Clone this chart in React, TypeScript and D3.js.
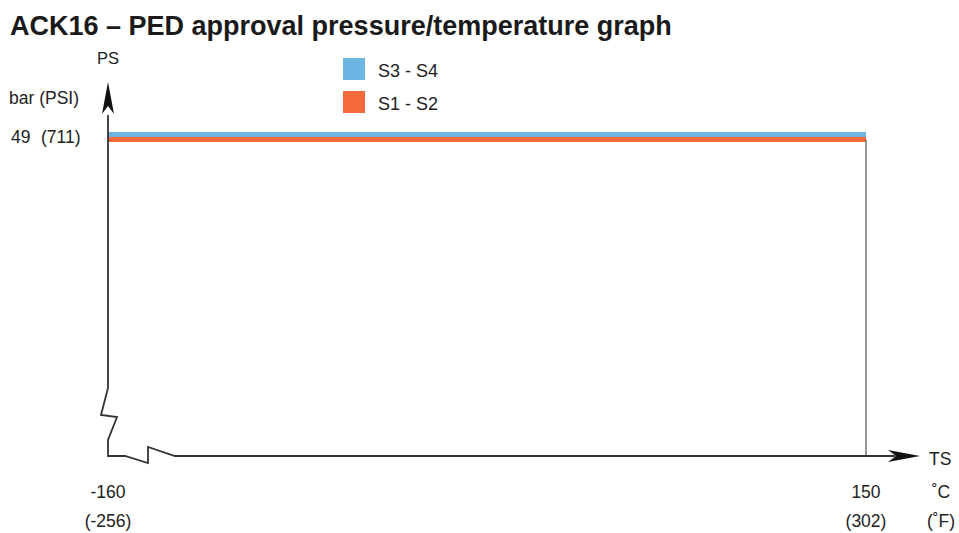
import { useEffect, useRef } from "react";
import * as d3 from "d3";

const width = 959;
const height = 533;

// temperature range (°C / °F) and max pressure (bar / psi)
const tempC = [-160, 150];
const tempF = [-256, 302];
const pressureBar = [49];
const pressurePsi = [711];

const series = [
  { name: "S3 - S4", color: "#6db5e3", temps: [-160, 150], ps: [49, 49] },
  { name: "S1 - S2", color: "#f4693a", temps: [-160, 150], ps: [49, 49] },
];

const App = () => {
  const svgRef = useRef<SVGSVGElement>(null);

  useEffect(() => {
    const svg = d3.select(svgRef.current);
    svg.selectAll("*").remove();

    const x = d3.scaleLinear().domain([tempC[0], tempC[1]]).range([108, 866]);
    const y = d3.scaleLinear().domain([0, pressureBar[0]]).range([456, 137]);

    const font = "'Liberation Sans', Arial, sans-serif";
    const x0 = x.range()[0];
    const y0 = y.range()[0];

    svg
      .append("text")
      .attr("x", 10)
      .attr("y", 35)
      .attr("font-family", font)
      .attr("font-size", 27)
      .attr("font-weight", "bold")
      .attr("fill", "#1a1a1a")
      .text("ACK16 – PED approval pressure/temperature graph");

    // series lines (stacked side by side at the same pressure)
    const line = d3
      .line<[number, number]>()
      .x((d) => x(d[0]))
      .y((d) => y(d[1]));

    series.forEach((s, i) => {
      const offset = (i - 0.5) * 5;
      svg
        .append("path")
        .attr("d", line(s.temps.map((t, j) => [t, s.ps[j]] as [number, number])))
        .attr("transform", `translate(0,${offset})`)
        .attr("fill", "none")
        .attr("stroke", s.color)
        .attr("stroke-width", 5);
    });

    // right boundary
    svg
      .append("line")
      .attr("x1", x(tempC[1]))
      .attr("x2", x(tempC[1]))
      .attr("y1", y(pressureBar[0]) + 3)
      .attr("y2", y0)
      .attr("stroke", "#777")
      .attr("stroke-width", 1.5);

    // axes with breaks
    const axisPath = [
      [x0, 115],
      [x0, 388],
      [x0 - 7, 415],
      [x0 + 9, 417],
      [x0, 440],
      [x0, y0],
      [x0 + 17, y0],
      [x0 + 40, 463],
      [x0 + 40, 447],
      [x0 + 67, y0],
      [895, y0],
    ];
    svg
      .append("path")
      .attr("d", d3.line()(axisPath as [number, number][]))
      .attr("fill", "none")
      .attr("stroke", "#333")
      .attr("stroke-width", 1.8)
      .attr("stroke-linejoin", "miter");

    // arrow heads
    svg
      .append("path")
      .attr("d", `M${x0},82 L${x0 + 6},114 L${x0},106 L${x0 - 6},114 Z`)
      .attr("fill", "#111");
    svg
      .append("path")
      .attr("d", `M920,${y0} L888,${y0 - 6} L896,${y0} L888,${y0 + 6} Z`)
      .attr("fill", "#111");

    const label = (tx: string, px: number, py: number, anchor = "start", size = 17.5) =>
      svg
        .append("text")
        .attr("x", px)
        .attr("y", py)
        .attr("text-anchor", anchor)
        .attr("font-family", font)
        .attr("font-size", size)
        .attr("fill", "#222")
        .text(tx);

    label("PS", x0, 64, "middle", 16.5);
    label("bar (PSI)", 9, 104);
    label(String(pressureBar[0]), 11, 143);
    label(`(${pressurePsi[0]})`, 41, 143);
    label("TS", 929, 465);

    label(String(tempC[0]), x(tempC[0]), 498, "middle");
    label(`(${tempF[0]})`, x(tempC[0]), 527, "middle");
    label(String(tempC[1]), x(tempC[1]), 498, "middle");
    label(`(${tempF[1]})`, x(tempC[1]), 527, "middle");
    label("˚C", 941, 498, "middle");
    label("(˚F)", 941, 527, "middle");

    // legend
    series.forEach((s, i) => {
      svg
        .append("rect")
        .attr("x", 343)
        .attr("y", 58 + i * 33)
        .attr("width", 22)
        .attr("height", 22)
        .attr("fill", s.color);
      label(s.name, 378, 77 + i * 33, "start", 18);
    });
  }, []);

  return (
    <svg
      ref={svgRef}
      width={width}
      height={height}
      style={{ position: "absolute", left: 0, top: 0, background: "#fff" }}
    ></svg>
  );
};

export default App;
